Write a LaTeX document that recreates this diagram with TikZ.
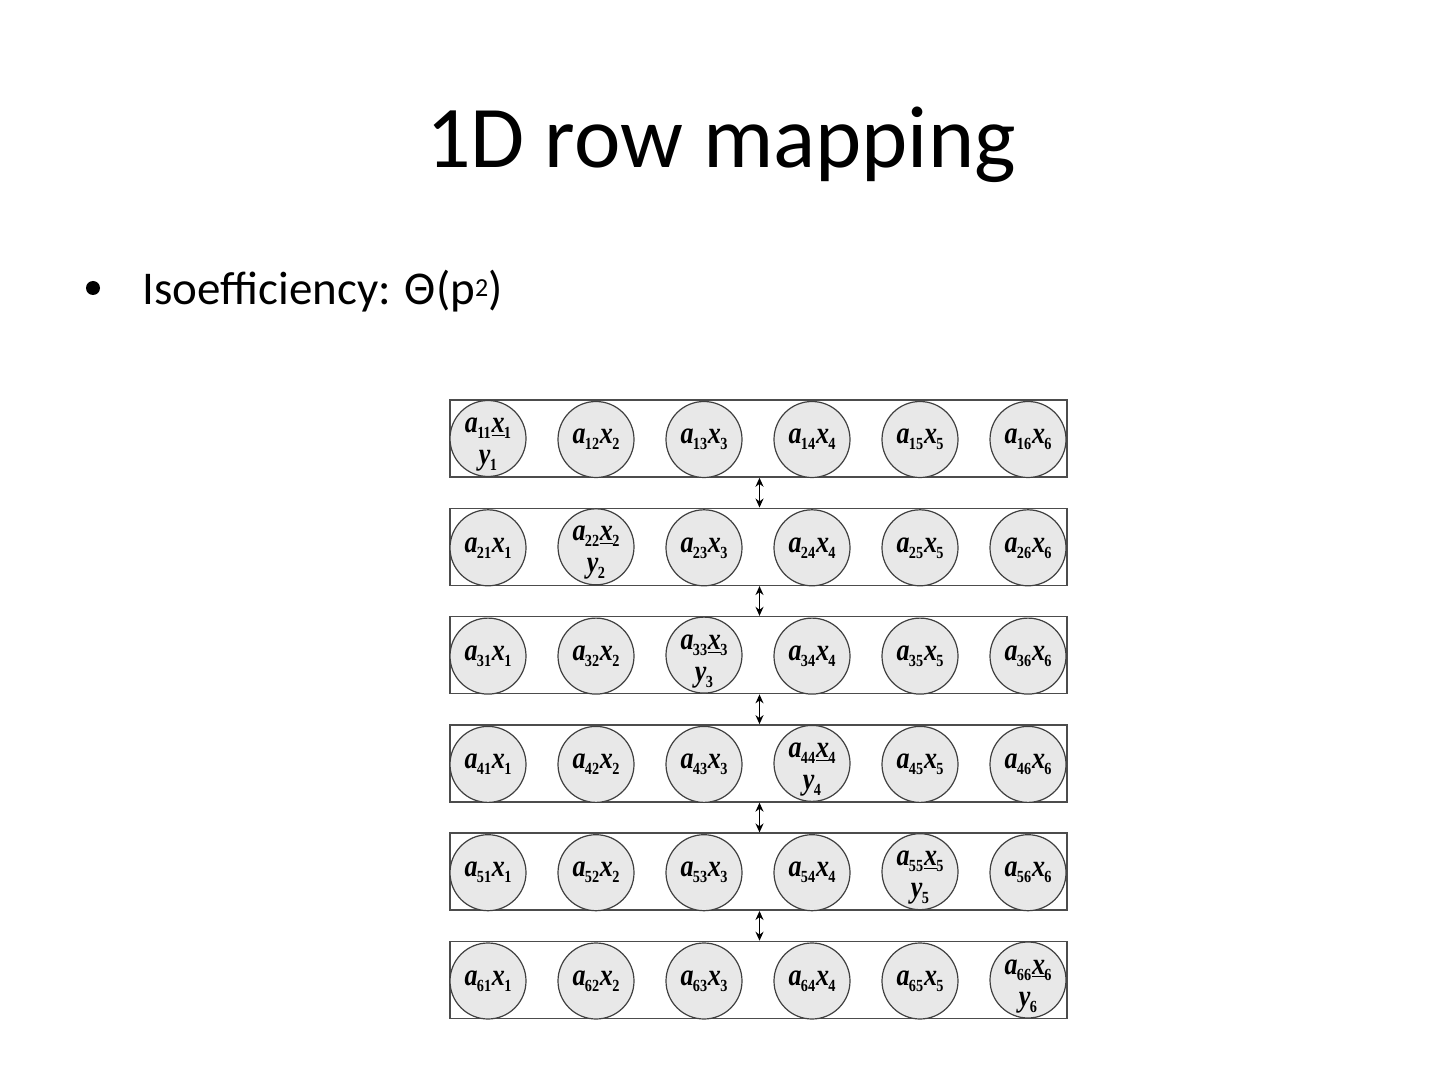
\documentclass[tikz,border=0pt]{standalone}
\usepackage{fontspec}
\usepackage{graphicx}
\setmainfont{Liberation Serif}
\newfontfamily\slidefont{Carlito}
\usetikzlibrary{arrows.meta}
\newcommand\mysub[1]{\kern-0.4pt\raisebox{-3pt}{\fontsize{8.5}{8.5}\selectfont\bfseries\upshape #1}}
\newcommand\ax[2]{\scalebox{0.84}[1]{\textbf{\textit{a}\mysub{#1}\kern0.5pt\textit{x}\mysub{#2}}}}
\newcommand\axd[1]{\scalebox{0.84}[1]{\textbf{\textit{a}\mysub{#1#1}\kern0.5pt\underline{\textit{x}}\mysub{#1}}}}
\newcommand\yd[1]{\scalebox{0.84}[1]{\textbf{\textit{y}\mysub{#1}}}}
\begin{document}
\begin{tikzpicture}[x=0.5pt,y=-0.5pt,
  rowbox/.style={draw=black!70,line width=0.75pt,minimum width=308.5pt,minimum height=38.5pt,inner sep=0pt},
  cellc/.style={circle,draw=black!75,fill=black!9,line width=0.6pt,minimum size=38pt,inner sep=0pt,font=\fontsize{15.5}{15.5}\selectfont},
  celltext/.style={inner sep=0pt,font=\fontsize{15.5}{15.5}\selectfont},
  link/.style={{Stealth[length=4.5pt,width=4pt]}-{Stealth[length=4.5pt,width=4pt]},line width=0.8pt}]
\useasboundingbox (0,0) rectangle (1440,1080);
\node[anchor=base,font=\slidefont\fontsize{44}{44}\selectfont] (title) at (721,168) {1D row mapping};
\node[circle,fill=black,inner sep=0pt,minimum size=7pt] (bul) at (93,288) {};
\node[anchor=base west,inner sep=0pt,font=\slidefont\fontsize{23.5}{24}\selectfont] (txt) at (142,305) {Isoefficiency: Θ(p\raisebox{4pt}{\fontsize{13}{13}\selectfont 2})};
\foreach \i in {1,...,6}{
  \pgfmathsetmacro\yy{438.5+108.3*(\i-1)}
  \node[rowbox] (r\i) at (758.5,\yy) {};
  \foreach \j in {1,...,6}{
    \pgfmathsetmacro\xx{488+108*(\j-1)}
    \ifnum\i=\j
      \node[cellc] (c\i\j) at (\xx,\yy) {};
      \node[celltext,anchor=base] (u\i) at (\xx,\yy-6) {\axd{\i}};
      \node[celltext,anchor=base] (v\i) at (\xx,\yy+26) {\yd{\i}};
    \else
      \node[cellc] (c\i\j) at (\xx,\yy+1) {\ax{\i\j}{\j}};
    \fi
  }
}
\foreach \i [evaluate=\i as \n using int(\i+1)] in {1,...,5}{
  \coordinate (ta\i) at ([xshift=0.5pt]r\i.south);
  \coordinate (tb\i) at ([xshift=0.5pt]r\n.north);
  \draw[link] (ta\i) -- (tb\i);
}
\end{tikzpicture}
\end{document}
